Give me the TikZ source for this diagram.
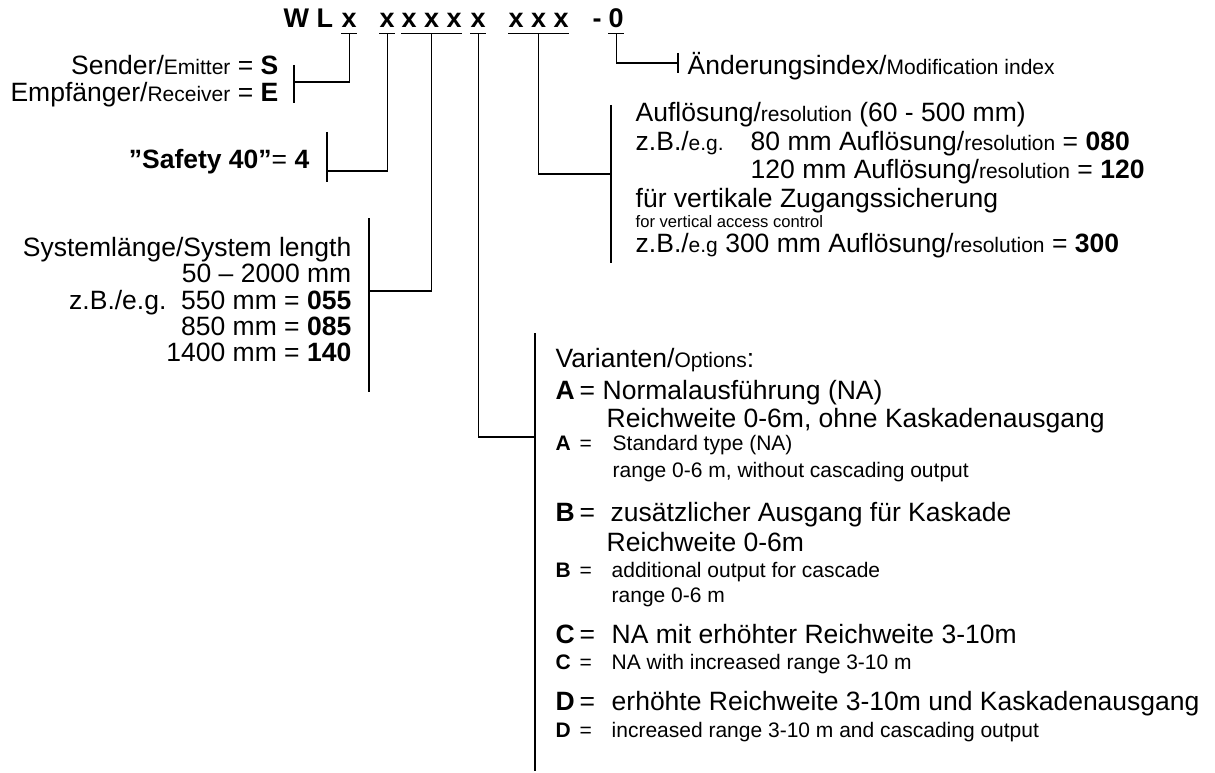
\documentclass[tikz,border=0pt]{standalone}
\usepackage{fontspec}
\setmainfont{Liberation Sans}
\newcommand\txtcode{\fontsize{27}{28}\selectfont}
\newcommand\txtbig{\fontsize{26.5}{28}\selectfont}
\newcommand\txtsml{\fontsize{21}{22}\selectfont}
\newcommand\txttny{\fontsize{16.6}{18}\selectfont}
\newcommand\sm[1]{{\txtsml #1}}
\newcommand\optlbl[1]{\makebox[24pt][l]{\textbf{#1}}=}

\begin{document}
\begin{tikzpicture}[x=1pt,y=-1pt,line width=1.4pt]
\tikzset{code/.style={font=\txtcode\bfseries,inner sep=0pt,anchor=base west,text depth=5pt},
  lt/.style={font=\txtbig,inner sep=0pt,anchor=base west},
  rt/.style={font=\txtbig,inner sep=0pt,anchor=base east},
  st/.style={font=\txtsml,inner sep=0pt,anchor=base west}}
\useasboundingbox (0,0) rectangle (1215,773);
% type code
\node[code] (wl) at (283,28) {W L};
\node[code] (cs) at (341,28) {x};
\node[code] (cf) at (379,28) {x};
\node[code] (cl) at (401,28) {x x x};
\node[code] (cv) at (470,28) {x};
\node[code] (cr) at (508,28) {x x x};
\node[code] (dash) at (592,28) {-};
\node[code] (ci) at (608,28) {0~};
\draw (cs.south west) -- (cs.south east);
\draw (cf.south west) -- (cf.south east);
\draw (cl.south west) -- (cl.south east);
\draw (cv.south west) -- (cv.south east);
\draw (cr.south west) -- (cr.south east);
\draw (ci.south west) -- (ci.south east);
% bracket points
\coordinate (bse) at (294,82);
\coordinate (bsf) at (327,171);
\coordinate (bsl) at (369,291);
\coordinate (bva) at (535,437);
\coordinate (bau) at (611,174);
\coordinate (bmi) at (678,63);
\draw (bse) ++(0,-17) -- ++(0,38);
\draw (bsf) ++(0,-39) -- ++(0,50);
\draw (bsl) ++(0,-73) -- ++(0,174);
\draw (bva) ++(0,-104) -- ++(0,438);
\draw (bau) ++(0,-69) -- ++(0,158);
\draw (bmi) ++(0,-10) -- ++(0,20);
\draw (cs.south) |- (bse);
\draw (cf.south) |- (bsf);
\draw (cl.south) |- (bsl);
\draw (cv.south) |- (bva);
\draw (cr.south) |- (bau);
\draw (ci.south) |- (bmi);
% sender / receiver
\node[rt] (sen) at (279,75) {Sender/\sm{Emitter} = \textbf{S}};
\node[rt] (emp) at (279,102) {Empfänger/\sm{Receiver} = \textbf{E}};
\node[rt] (saf) at (310,168) {\textbf{”Safety 40”}= \textbf{4}};
% system length
\node[rt] (sl1) at (352,256) {Systemlänge/System length};
\node[rt] (sl2) at (352,282) {50 – 2000 mm};
\node[rt] (sl3) at (352,309) {z.B./e.g.\ \ 550 mm = \textbf{055}};
\node[rt] (sl4) at (352,335) {850 mm = \textbf{085}};
\node[rt] (sl5) at (352,361) {1400 mm = \textbf{140}};
% modification index
\node[lt] (mod) at (687,75) {Änderungsindex/\sm{Modification index}};
% resolution
\node[lt] (au1) at (635,122) {Auflösung/\sm{resolution} (60 - 500 mm)};
\node[lt] (au2) at (635,150) {z.B./\sm{e.g.}};
\node[lt] (au3) at (750,150) {80 mm Auflösung/\sm{resolution} = \textbf{080}};
\node[lt] (au4) at (750,178) {120 mm Auflösung/\sm{resolution} = \textbf{120}};
\node[lt] (au5) at (635,207) {für vertikale Zugangssicherung};
\node[lt,font=\txttny] (au6) at (635,227) {for vertical access control};
\node[lt] (au7) at (635,252) {z.B./\sm{e.g} 300 mm Auflösung/\sm{resolution} = \textbf{300}};
% options
\node[lt] (var) at (555,367) {Varianten/\sm{Options}:};
\node[lt] (la) at (555,399) {\optlbl{A}};
\node[lt] (ta1) at (602,399) {Normalausführung (NA)};
\node[lt] (ta2) at (606,427) {Reichweite 0-6m, ohne Kaskadenausgang};
\node[st] (ea) at (555,450) {\optlbl{A}};
\node[st] (te1) at (612,450) {Standard type (NA)};
\node[st] (te2) at (612,477) {range 0-6 m, without cascading output};
\node[lt] (lb) at (555,521) {\optlbl{B}};
\node[lt] (tb1) at (610,521) {zusätzlicher Ausgang für Kaskade};
\node[lt] (tb2) at (606,551) {Reichweite 0-6m};
\node[st] (eb) at (555,577) {\optlbl{B}};
\node[st] (tf1) at (611,577) {additional output for cascade};
\node[st] (tf2) at (611,602) {range 0-6 m};
\node[lt] (lc) at (555,643) {\optlbl{C}};
\node[lt] (tc1) at (611,643) {NA mit erhöhter Reichweite 3-10m};
\node[st] (ec) at (555,669) {\optlbl{C}};
\node[st] (tg1) at (611,669) {NA with increased range 3-10 m};
\node[lt] (ld) at (555,710) {\optlbl{D}};
\node[lt] (td1) at (611,710) {erhöhte Reichweite 3-10m und Kaskadenausgang};
\node[st] (ed) at (555,737) {\optlbl{D}};
\node[st] (th1) at (611,737) {increased range 3-10 m and cascading output};
\end{tikzpicture}
\end{document}
